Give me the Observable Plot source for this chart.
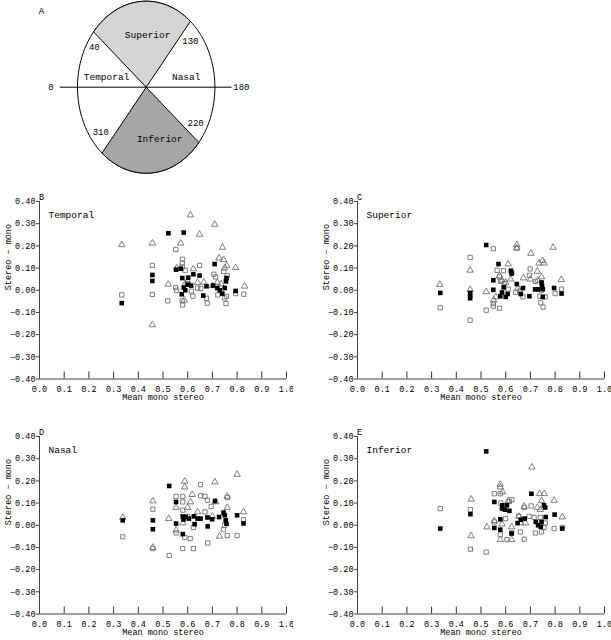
<!DOCTYPE html>
<html>
<head>
<meta charset="utf-8">
<script src="https://cdn.jsdelivr.net/npm/d3@7"></script>
<script src="https://cdn.jsdelivr.net/npm/@observablehq/plot@0.6"></script>
<style>
  body { margin: 0; background: white; }
  #root { position: relative; width: 611px; height: 640px; overflow: hidden; background: white; }
  #root > svg { position: absolute; }
</style>
</head>
<body>
<div id="root"></div>
<script>
// ---------- DATA ----------
const xTicks = [0, 0.1, 0.2, 0.3, 0.4, 0.5, 0.6, 0.7, 0.8, 0.9, 1.0];
const yTicks = [-0.4, -0.3, -0.2, -0.1, 0, 0.1, 0.2, 0.3, 0.4];
const xLabel = "Mean mono stereo";
const yLabel = "Stereo \u2212 mono";

// Panel A: sector boundaries (degrees, 0 = temporal/left, 180 = nasal/right)
const boundaryAngles = [40, 130, 220, 310];
const sectors = [
  {name: "Superior", from: 40, to: 130, fill: "#d4d4d4"},
  {name: "Inferior", from: 220, to: 310, fill: "#a6a6a6"}
];
const regionLabels = [
  {label: "Superior", angle: 92, r: 0.61},
  {label: "Temporal", angle: 12, r: 0.59},
  {label: "Nasal", angle: 168, r: 0.595},
  {label: "Inferior", angle: 252, r: 0.635}
];
const angleLabels = [
  {label: "40", angle: 32, r: 0.89},
  {label: "130", angle: 140, r: 0.84},
  {label: "220", angle: 210, r: 0.83},
  {label: "310", angle: 322, r: 0.84}
];
const meridianLabels = [{label: "0", angle: 0}, {label: "180", angle: 180}];

// Panel B: Temporal
const temporalFilled = [[0.333,-0.058],[0.457,0.069],[0.457,0.042],[0.522,0.257],[0.584,0.26],[0.553,0.093],[0.572,0.097],[0.578,0.055],[0.602,0.057],[0.623,0.072],[0.648,0.066],[0.614,0.021],[0.584,0.012],[0.576,-0.018],[0.59,0.0],[0.6,0.025],[0.663,-0.024],[0.676,0.018],[0.709,0.118],[0.703,0.021],[0.72,0.01],[0.73,0.0],[0.74,-0.015],[0.75,0.01],[0.755,0.04],[0.757,0.055],[0.794,-0.003]];
const temporalOpen = [[0.333,-0.021],[0.457,0.112],[0.457,-0.019],[0.519,-0.048],[0.552,0.184],[0.579,0.14],[0.578,0.122],[0.578,0.105],[0.59,0.09],[0.648,0.112],[0.706,0.072],[0.713,0.06],[0.746,0.085],[0.76,0.066],[0.551,0.012],[0.555,0.0],[0.615,-0.004],[0.621,-0.027],[0.653,0.008],[0.676,-0.036],[0.679,-0.058],[0.578,-0.048],[0.579,-0.066],[0.722,-0.021],[0.75,-0.035],[0.755,-0.06],[0.757,-0.027],[0.794,-0.015],[0.827,-0.018],[0.6,0.03],[0.64,0.01]];
const temporalTri = [[0.333,0.205],[0.457,0.212],[0.457,-0.156],[0.521,0.027],[0.572,0.212],[0.611,0.339],[0.648,0.252],[0.709,0.297],[0.741,0.193],[0.727,0.145],[0.745,0.138],[0.758,0.112],[0.794,0.102],[0.623,0.096],[0.83,0.018],[0.586,-0.045],[0.665,0.036],[0.555,0.1],[0.59,0.03],[0.72,0.035],[0.735,0.028],[0.75,0.1],[0.6,0.04],[0.64,0.035],[0.7,0.02]];

// Panel C: Superior
const superiorFilled = [[0.335,-0.012],[0.456,-0.012],[0.456,-0.024],[0.456,-0.036],[0.521,0.204],[0.571,0.118],[0.55,0.045],[0.55,0.002],[0.578,-0.027],[0.592,0.013],[0.608,-0.017],[0.621,0.088],[0.624,0.075],[0.645,0.028],[0.661,-0.017],[0.696,-0.027],[0.719,0.004],[0.732,0.004],[0.745,0.035],[0.747,0.02],[0.75,0.005],[0.75,-0.03],[0.796,0.01],[0.826,-0.015],[0.585,-0.01],[0.6,-0.03],[0.67,0.01]];
const superiorOpen = [[0.335,-0.079],[0.456,0.148],[0.456,-0.135],[0.521,-0.09],[0.55,0.187],[0.55,-0.072],[0.575,-0.081],[0.55,-0.06],[0.565,0.09],[0.591,0.088],[0.575,0.06],[0.58,0.04],[0.595,0.03],[0.61,0.005],[0.625,0.08],[0.64,-0.01],[0.66,0.0],[0.645,0.19],[0.699,0.096],[0.696,0.067],[0.72,0.04],[0.738,-0.027],[0.742,-0.057],[0.751,-0.076],[0.745,0.0],[0.76,-0.03],[0.826,0.005],[0.8,-0.015],[0.67,-0.03]];
const superiorTri = [[0.333,0.026],[0.456,0.09],[0.456,0.003],[0.521,-0.007],[0.551,-0.045],[0.61,0.118],[0.645,0.205],[0.645,0.19],[0.702,0.166],[0.728,0.085],[0.735,0.122],[0.749,0.133],[0.755,0.122],[0.672,0.055],[0.792,0.193],[0.825,0.048],[0.745,0.06],[0.575,0.065],[0.585,0.045],[0.6,0.035],[0.62,0.05],[0.56,-0.03],[0.65,0.01],[0.7,0.05],[0.73,0.045]];

// Panel D: Nasal
const nasalFilled = [[0.337,0.022],[0.459,0.022],[0.459,-0.018],[0.525,0.177],[0.553,0.105],[0.553,0.008],[0.58,0.04],[0.583,0.026],[0.592,0.037],[0.58,-0.04],[0.625,0.04],[0.628,0.005],[0.652,0.03],[0.681,-0.005],[0.699,0.027],[0.71,0.109],[0.727,0.037],[0.745,0.057],[0.75,0.045],[0.754,0.022],[0.757,0.007],[0.8,0.045],[0.826,0.008],[0.68,0.035],[0.64,0.03],[0.605,0.03]];
const nasalOpen = [[0.337,-0.052],[0.459,0.072],[0.459,-0.105],[0.525,-0.136],[0.553,0.13],[0.58,0.13],[0.58,0.105],[0.58,0.068],[0.553,-0.035],[0.588,-0.055],[0.61,-0.06],[0.58,-0.105],[0.623,-0.105],[0.623,-0.01],[0.681,-0.08],[0.76,-0.046],[0.8,-0.046],[0.745,-0.02],[0.652,0.183],[0.652,0.133],[0.67,0.13],[0.68,0.113],[0.695,0.085],[0.76,0.125],[0.67,0.06],[0.826,0.025],[0.75,0.0],[0.6,0.04]];
const nasalTri = [[0.337,0.035],[0.459,0.109],[0.459,-0.1],[0.523,0.03],[0.553,0.08],[0.553,-0.022],[0.588,0.198],[0.588,0.172],[0.618,0.138],[0.611,0.105],[0.6,0.08],[0.71,0.195],[0.714,0.105],[0.76,0.08],[0.76,0.13],[0.8,0.229],[0.826,0.06],[0.729,-0.05],[0.58,0.01],[0.64,0.06],[0.7,0.04]];

// Panel E: Inferior
const inferiorFilled = [[0.335,-0.015],[0.457,0.05],[0.521,0.333],[0.554,0.105],[0.586,0.09],[0.585,0.075],[0.597,0.07],[0.605,0.09],[0.615,0.065],[0.578,0.027],[0.578,-0.02],[0.554,-0.012],[0.624,-0.037],[0.648,0.01],[0.661,0.025],[0.677,0.03],[0.704,0.142],[0.722,0.015],[0.731,0.0],[0.742,-0.007],[0.745,0.015],[0.762,0.037],[0.755,0.09],[0.76,0.08],[0.798,0.048],[0.829,-0.015]];
const inferiorOpen = [[0.335,0.075],[0.457,0.07],[0.457,-0.108],[0.521,-0.121],[0.554,0.142],[0.578,0.142],[0.58,0.1],[0.625,0.115],[0.615,0.107],[0.554,0.015],[0.578,-0.043],[0.605,-0.065],[0.624,-0.035],[0.653,0.04],[0.659,-0.03],[0.675,-0.063],[0.675,0.08],[0.703,0.087],[0.695,0.04],[0.715,0.035],[0.74,0.035],[0.76,0.01],[0.755,-0.01],[0.745,-0.03],[0.72,-0.035],[0.796,-0.015],[0.829,-0.01],[0.6,0.03]];
const inferiorTri = [[0.46,0.117],[0.46,-0.048],[0.524,-0.008],[0.578,0.184],[0.578,0.172],[0.587,0.15],[0.554,0.02],[0.578,-0.065],[0.624,-0.065],[0.624,-0.008],[0.653,0.04],[0.675,0.085],[0.706,0.262],[0.737,0.142],[0.756,0.142],[0.745,0.11],[0.728,0.08],[0.74,0.07],[0.796,0.112],[0.829,0.037],[0.66,0.01],[0.68,0.01],[0.61,0.11],[0.585,0.005]];

// ---------- DRAWING ----------
const root = document.getElementById("root");
const FONT = "'Liberation Mono', 'DejaVu Sans Mono', monospace";

function place(svg, left, top) {
  svg.style.left = left + "px";
  svg.style.top = top + "px";
  root.appendChild(svg);
}

// Panel A diagram
const rad = Math.PI / 180;
const pt = (a, r = 1) => ({x: -Math.cos(a * rad) * r, y: Math.sin(a * rad) * r});
const outline = d3.range(0, 361, 2).map(a => pt(a));
function sectorPoly(s) {
  return [{x: 0, y: 0}, ...d3.range(s.from, s.to + 0.01, 2).map(a => pt(a)), pt(s.to), {x: 0, y: 0}];
}
const meridianExt = 1.25;

const panelA = Plot.plot({
  width: 300, height: 180, margin: 0,
  style: {fontFamily: FONT, fontSize: "9px", background: "transparent", color: "black"},
  x: {domain: [-1, 1], range: [77, 214.4], axis: null},
  y: {domain: [-1, 1], range: [172.7, 0.7], axis: null},
  marks: [
    Plot.line(outline, {x: "x", y: "y", fill: "white", stroke: "black", strokeWidth: 1}),
    ...sectors.map(s => Plot.line(sectorPoly(s), {x: "x", y: "y", fill: s.fill, stroke: "black", strokeWidth: 1})),
    Plot.ruleY([0], {x1: -meridianExt, x2: meridianExt, stroke: "black", strokeWidth: 1}),
    Plot.text(regionLabels, {x: d => pt(d.angle, d.r).x, y: d => pt(d.angle, d.r).y, text: "label", fontSize: 9.5}),
    Plot.text(angleLabels, {x: d => pt(d.angle, d.r).x, y: d => pt(d.angle, d.r).y, text: "label", fontSize: 9}),
    Plot.text(meridianLabels, {x: d => pt(d.angle, 1.385).x, y: 0, text: "label", fontSize: 9}),
    Plot.text(["A"], {frameAnchor: "top-left", dx: 41, dy: 7, text: d => d, fontSize: 9, textAnchor: "middle"})
  ]
});
place(panelA, 0, 0);

// Scatter panels
const frameH = 225 - 21 - 26.5;
function scatter(letter, name, filled, open, tri) {
  return Plot.plot({
    width: 293, height: 225,
    marginLeft: 39, marginRight: 7, marginTop: 21, marginBottom: 26.5,
    style: {fontFamily: FONT, fontSize: "8.5px", background: "transparent", color: "black"},
    x: {domain: [0, 1]},
    y: {domain: [-0.4, 0.4]},
    marks: [
      Plot.axisX(xTicks, {tickSize: 0, tickPadding: 6.5, tickFormat: d3.format(".1f"), label: null}),
      Plot.tickX(xTicks, {x: d => d, insetTop: frameH - 7, stroke: "#333", strokeWidth: 1}),
      Plot.axisY(yTicks, {tickSize: 3, tickPadding: 1, tickFormat: d3.format(".2f"), label: null, stroke: "#444"}),
      Plot.ruleX([0], {stroke: "#444"}),
      Plot.ruleY([-0.4], {stroke: "#444"}),
      Plot.dot(open, {x: d => d[0], y: d => d[1], symbol: "square", r: 2.4, stroke: "#707070", strokeWidth: 0.9, fill: "none"}),
      Plot.dot(tri, {x: d => d[0], y: d => d[1], symbol: "triangle", r: 2.4, stroke: "#707070", strokeWidth: 0.9, fill: "none"}),
      Plot.dot(filled, {x: d => d[0], y: d => d[1], symbol: "square", r: 2.6, fill: "black", stroke: "none"}),
      Plot.text([xLabel], {frameAnchor: "bottom", dy: 21, text: d => d, fontSize: 8.5}),
      Plot.text([yLabel], {frameAnchor: "left", dx: -31, rotate: -90, text: d => d, fontSize: 8.5}),
      Plot.text([letter], {frameAnchor: "top-left", dx: 2, dy: -8, text: d => d, fontSize: 8.5, textAnchor: "middle"}),
      Plot.text([name], {frameAnchor: "top-left", dx: 9, dy: 10, text: d => d, fontSize: 9.5, textAnchor: "start"})
    ]
  });
}

place(scatter("B", "Temporal", temporalFilled, temporalOpen, temporalTri), 0, 180);
place(scatter("C", "Superior", superiorFilled, superiorOpen, superiorTri), 317.7, 180);
place(scatter("D", "Nasal", nasalFilled, nasalOpen, nasalTri), 0, 415.3);
place(scatter("E", "Inferior", inferiorFilled, inferiorOpen, inferiorTri), 317.7, 415.3);
</script>
</body>
</html>
